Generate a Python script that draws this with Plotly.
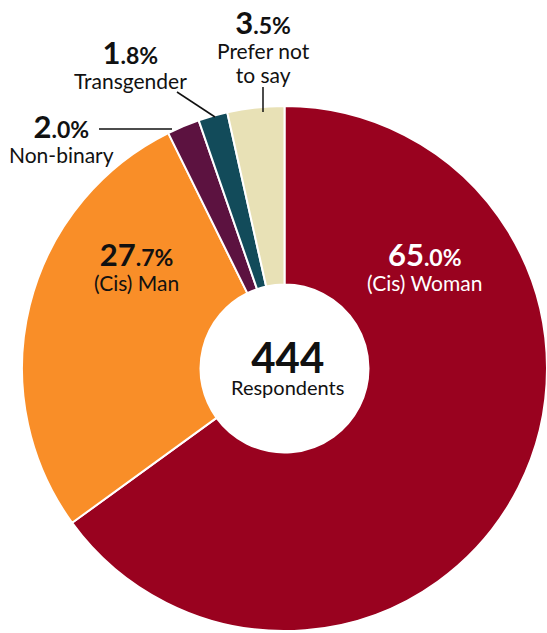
import plotly.graph_objects as go

# Survey: gender identity of respondents
categories = ["(Cis) Woman", "(Cis) Man", "Non-binary", "Transgender", "Prefer not<br>to say"]
percentages = [65.0, 27.7, 2.0, 1.8, 3.5]
respondents = 444
colors = ["#99021F", "#F98E28", "#5C1240", "#124B5A", "#E8E1B6"]

W, H = 547, 633
L, T, R, B = 22, 106, 0, 2
PW, PH = W - L - R, H - T - B
FONT = "Lato"


def px(x, y):
    """Pixel position -> paper coordinates."""
    return (x - L) / PW, 1 - (y - T) / PH


def pct_text(v):
    whole, dec = f"{v:.1f}".split(".")
    return (f"<b><span style='font-size:31px'>{whole}</span>"
            f"<span style='font-size:23px'>.{dec}%</span></b>")


def name_text(name):
    return "<br>".join(f"<span style='font-size:21px'>{part}</span>" for part in name.split("<br>"))


fig = go.Figure(go.Pie(
    labels=categories,
    values=percentages,
    marker=dict(colors=colors, line=dict(color="white", width=2)),
    hole=0.32,
    sort=False,
    direction="clockwise",
    rotation=0,
    textinfo="none",
    hoverinfo="label+percent",
    showlegend=False,
))

# label block centres (pixels) and text colour
label_pos = [
    ((424, 265), "white"),
    ((136, 265), "#111111"),
    ((61, 137), "#111111"),
    ((130, 63), "#111111"),
    ((263, 45), "#111111"),
]

annotations = []
for val, name, ((cx, cy), col) in zip(percentages, categories, label_pos):
    x, y = px(cx, cy)
    annotations.append(dict(x=x, y=y, xref="paper", yref="paper",
                            text=pct_text(val) + "<br>" + name_text(name),
                            showarrow=False, font=dict(family=FONT, color=col, size=19),
                            xanchor="center", yanchor="middle"))

# centre of the donut
x, y = px(287, 365)
annotations.append(dict(x=x, y=y, xref="paper", yref="paper",
                        text=(f"<b><span style='font-size:42px'>{respondents}</span></b><br>"
                              "<span style='font-size:20px'>Respondents</span>"),
                        showarrow=False, font=dict(family=FONT, color="#111111", size=17),
                        xanchor="center", yanchor="middle"))

# leader lines from small-slice labels to their slices
leaders = [((99, 129), (172, 129)), ((177, 92), (215, 117)), ((263, 87), (263, 112))]
shapes = []
for (x0, y0), (x1, y1) in leaders:
    a0, b0 = px(x0, y0)
    a1, b1 = px(x1, y1)
    shapes.append(dict(type="line", xref="paper", yref="paper", x0=a0, y0=b0, x1=a1, y1=b1,
                       line=dict(color="#111111", width=1.5)))

fig.update_layout(
    width=W, height=H,
    margin=dict(l=L, r=R, t=T, b=B),
    paper_bgcolor="white", plot_bgcolor="white",
    annotations=annotations,
    shapes=shapes,
)

fig.write_html("out.html")
